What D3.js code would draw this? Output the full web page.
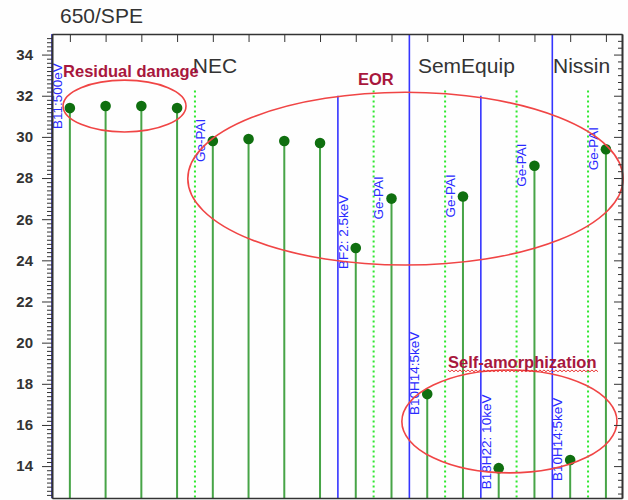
<!DOCTYPE html>
<html>
<head>
<meta charset="utf-8">
<script src="https://cdn.jsdelivr.net/npm/d3@7/dist/d3.min.js"></script>
<style>
  html, body { margin: 0; padding: 0; background: #fefefe; }
  svg { display: block; font-family: Arial, "Liberation Sans", sans-serif; }
</style>
</head>
<body>
<svg id="chart" width="628" height="500"></svg>
<script>
// Sample positions (1..16) and measured values
const samples = d3.range(1, 17);
const values = [31.4, 31.5, 31.5, 31.4, 29.8, 29.9, 29.8, 29.7,
                24.6, 27.0, 17.5, 27.1, 13.9, 28.6, 14.3, 29.4];
const pointLabels = ["B11:500eV", "", "", "", "Ge-PAI", "", "", "",
                     "BF2: 2.5keV", "Ge-PAI", "B10H14:5keV", "Ge-PAI",
                     "B18H22: 10keV", "Ge-PAI", "B10H14:5keV", "Ge-PAI"];

// Vendor groups
const vendors = ["NEC", "SemEquip", "Nissin"];
const vendorStarts = [4.44, 10.74, 14.52];

// Separator lines: vendor boundaries, implant-species boundaries, Ge-PAI markers
const vendorBounds = [0.5, 10.5, 14.5];
const speciesBounds = [8.5, 12.5];
const paiMarks = [4.5, 9.5, 11.5, 13.5, 15.5];

// Y axis tick labels
const yTicks = [14, 16, 18, 20, 22, 24, 26, 28, 30, 32, 34];

// Highlighted regions
const regions = [
  { name: "Residual damage", cx: 2.53, cy: 31.5, rx: 1.72, ry: 1.26, tx: 0.81, ty: 32.9 },
  { name: "EOR", cx: 10.39, cy: 27.97, rx: 6.09, ry: 4.2, tx: 9.06, ty: 32.52 },
  { name: "Self-amorphization", cx: 13.3, cy: 16.17, rx: 3.01, ry: 2.5, tx: 11.58, ty: 18.77 }
];

const svg = d3.select("#chart");
const plotL = 52, plotR = 622, plotT = 34, plotB = 498;

const x = d3.scaleLinear().domain([0.5, 16.45]).range([plotL, plotR]);
const y = d3.scaleLinear().domain([12.45, 35]).range([plotB, plotT]);

// Title
svg.append("text")
  .attr("x", 60).attr("y", 23)
  .attr("font-size", 21).attr("fill", "#333")
  .text("650/SPE");

const plot = svg.append("g");

// Vendor boundary lines (full height)
plot.selectAll("line.vendor").data(vendorBounds).join("line")
  .attr("class", "vendor")
  .attr("x1", d => x(d)).attr("x2", d => x(d))
  .attr("y1", y(35)).attr("y2", y(12.45))
  .attr("stroke", "#3535ff").attr("stroke-width", 1.6);

// Species boundary lines
plot.selectAll("line.species").data(speciesBounds).join("line")
  .attr("class", "species")
  .attr("x1", d => x(d)).attr("x2", d => x(d))
  .attr("y1", y(32)).attr("y2", y(12.45))
  .attr("stroke", "#3535ff").attr("stroke-width", 1.6);

// Ge-PAI dotted markers
plot.selectAll("line.pai").data(paiMarks).join("line")
  .attr("class", "pai")
  .attr("x1", d => x(d)).attr("x2", d => x(d))
  .attr("y1", y(32.25)).attr("y2", y(12.45))
  .attr("stroke", "#2ee82e").attr("stroke-width", 2)
  .attr("stroke-dasharray", "2,3");

// Stems
plot.selectAll("line.stem").data(samples).join("line")
  .attr("class", "stem")
  .attr("x1", d => x(d)).attr("x2", d => x(d))
  .attr("y1", (d, i) => y(values[i])).attr("y2", y(12.45))
  .attr("stroke", "#47a447").attr("stroke-width", 2);

// Points
plot.selectAll("circle.pt").data(samples).join("circle")
  .attr("class", "pt")
  .attr("cx", d => x(d)).attr("cy", (d, i) => y(values[i]))
  .attr("r", 5.3)
  .attr("fill", "#0f6f0f");

// Implant condition labels
plot.selectAll("text.cond").data(samples.filter((d, i) => pointLabels[i])).join("text")
  .attr("class", "cond")
  .attr("transform", d => `translate(${x(d) - 8},${y(values[d - 1]) + 21}) rotate(-90)`)
  .attr("font-size", 13.5).attr("fill", "#2a2aff")
  .text(d => pointLabels[d - 1]);

// Vendor names
plot.selectAll("text.vendorName").data(vendors).join("text")
  .attr("class", "vendorName")
  .attr("x", (d, i) => x(vendorStarts[i])).attr("y", y(33.1))
  .attr("font-size", 21).attr("fill", "#333")
  .text(d => d);

// Region ellipses
plot.selectAll("ellipse.region").data(regions).join("ellipse")
  .attr("class", "region")
  .attr("cx", d => x(d.cx)).attr("cy", d => y(d.cy))
  .attr("rx", d => x(d.cx + d.rx) - x(d.cx))
  .attr("ry", d => y(d.cy) - y(d.cy + d.ry))
  .attr("fill", "none").attr("stroke", "#f04545").attr("stroke-width", 1.6);

// Region captions
const captions = plot.selectAll("text.caption").data(regions).join("text")
  .attr("class", "caption")
  .attr("x", d => x(d.tx)).attr("y", d => y(d.ty))
  .attr("font-size", 16.5).attr("font-weight", "bold").attr("fill", "#a8173d")
  .text(d => d.name);

// Wavy underline under the last caption
captions.filter(d => d.name === "Self-amorphization").each(function (d) {
  const bb = this.getBBox();
  const y0 = y(d.ty) + 2;
  let p = `M${bb.x},${y0}`;
  for (let xx = bb.x, k = 0; xx < bb.x + bb.width; xx += 2, k++) {
    p += ` L${xx + 2},${y0 + (k % 2 ? 0 : 1.8)}`;
  }
  plot.append("path").attr("d", p)
    .attr("fill", "none").attr("stroke", "#e83030").attr("stroke-width", 1);
});

// Axes
const axisColor = "#333";
const style = g => {
  g.selectAll("path, line").attr("stroke", axisColor);
  g.select("path.domain").attr("stroke-width", 1.6);
  g.selectAll("text").attr("fill", "#333");
};

const inRange = v => v > 12.45 && v < 35;
const minorLeft = d3.range(63, 176).map(k => k / 5).filter(v => inRange(v) && !yTicks.includes(v));
const minorRight = d3.range(36, 106).map(k => k / 3).filter(v => inRange(v) && !yTicks.includes(v));

svg.append("g").attr("transform", `translate(${plotL},0)`)
  .call(d3.axisLeft(y).tickValues(minorLeft).tickSize(5).tickSizeOuter(0).tickFormat(""))
  .call(style);
svg.append("g").attr("transform", `translate(${plotL},0)`)
  .call(d3.axisLeft(y).tickValues(yTicks).tickSize(10).tickPadding(9).tickSizeOuter(0))
  .call(g => g.selectAll("text").attr("font-size", 15).attr("font-weight", "bold")
    .attr("font-family", "Arial, 'Liberation Sans', sans-serif"))
  .call(style);

svg.append("g").attr("transform", `translate(${plotR},0)`)
  .call(d3.axisRight(y).tickValues(minorRight).tickSize(-4).tickSizeOuter(0).tickFormat(""))
  .call(style);
svg.append("g").attr("transform", `translate(${plotR},0)`)
  .call(d3.axisRight(y).tickValues(yTicks).tickSize(-8).tickSizeOuter(0).tickFormat(""))
  .call(style);

svg.append("g").attr("transform", `translate(0,${plotT})`)
  .call(d3.axisTop(x).tickValues(samples).tickSize(-8).tickSizeOuter(0).tickFormat(""))
  .call(style);

svg.append("g").attr("transform", `translate(0,${plotB})`)
  .call(d3.axisBottom(x).tickValues([]).tickSizeOuter(0))
  .call(style);
</script>
</body>
</html>
